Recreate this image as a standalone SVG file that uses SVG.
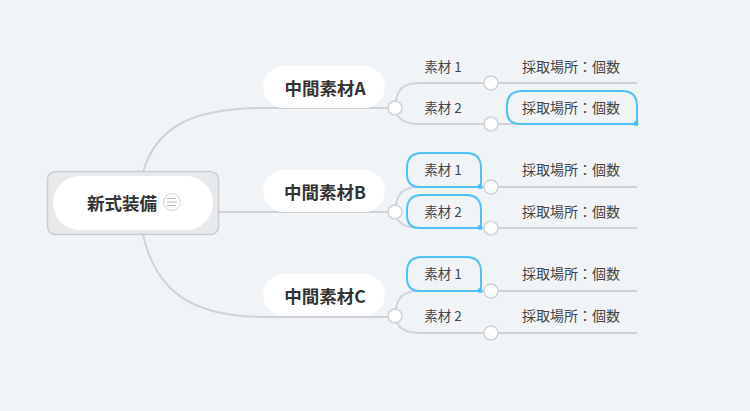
<svg xmlns="http://www.w3.org/2000/svg" width="750" height="411" viewBox="0 0 750 411">
<style>
.bg{fill:#f0f4f7}
.ln{fill:none;stroke:#cfd3d7;stroke-width:2}
.jn{fill:#fff;stroke:#cfd3d7;stroke-width:1.5}
.pill{fill:#fff}
.t1{font-family:"Noto Sans CJK JP","Noto Sans",sans-serif;font-weight:bold;font-size:17.5px;fill:#333;text-anchor:middle;dominant-baseline:central}
.t2{font-family:"Noto Sans CJK JP","Noto Sans",sans-serif;font-size:13.5px;fill:#444;text-anchor:middle;dominant-baseline:central}
.t3{font-family:"Noto Sans CJK JP","Noto Sans",sans-serif;font-size:14px;fill:#444;text-anchor:middle;dominant-baseline:central}
.sel{fill:none;stroke:#4fc0f8;stroke-width:2}
.dot{fill:#4fc0f8}
</style>
<rect class="bg" x="0" y="0" width="750" height="411"/>
<g id="connectors">
<path class="ln" d="M143,172 C156,128 190,108 265,108 L395,108"/>
<path class="ln" d="M219,212 L395,212"/>
<path class="ln" d="M143,235 C156,290 190,317 265,317 L395,317"/>
<path class="ln" d="M395,108 C396,90 402,83 420,83 L637,83"/>
<path class="ln" d="M395,108 C396,117 402,124 420,124 L637,124"/>
<path class="ln" d="M395,212 C396,194 402,187 420,187 L637,187"/>
<path class="ln" d="M395,212 C396,221 402,228 420,228 L637,228"/>
<path class="ln" d="M395,316 C396,298 402,291 420,291 L637,291"/>
<path class="ln" d="M395,316 C396,326 402,333 420,333 L637,333"/>
</g>
<g id="root">
<rect x="47.5" y="171.5" width="171" height="63" rx="8" fill="#e7e9eb" stroke="#c9cdd1" stroke-width="1.5"/>
<rect class="pill" x="53" y="176" width="160" height="54" rx="27"/>
<text class="t1" x="122" y="202">新式装備</text>
<circle cx="172" cy="202" r="8.5" fill="#fff" stroke="#cfd3d7" stroke-width="1"/>
<path d="M167,198.5 H176 M167,202 H177 M167,205.5 H176" stroke="#bbb" stroke-width="1" fill="none"/>
</g>
<g id="nodeA">
<rect class="pill" x="263" y="66" width="122" height="42" rx="21"/>
<text class="t1" x="325" y="87">中間素材A</text>
</g>
<g id="nodeB">
<rect class="pill" x="263" y="170" width="122" height="42" rx="21"/>
<text class="t1" x="325" y="191">中間素材B</text>
</g>
<g id="nodeC">
<rect class="pill" x="263" y="274" width="122" height="42" rx="21"/>
<text class="t1" x="325" y="295">中間素材C</text>
</g>
<g id="junctions">
<circle class="jn" cx="395" cy="108" r="7"/>
<circle class="jn" cx="395" cy="212" r="7"/>
<circle class="jn" cx="395" cy="316" r="7"/>
<circle class="jn" cx="491" cy="83" r="7"/>
<circle class="jn" cx="491" cy="124" r="7"/>
<circle class="jn" cx="491" cy="187" r="7"/>
<circle class="jn" cx="491" cy="228" r="7"/>
<circle class="jn" cx="491" cy="291" r="7"/>
<circle class="jn" cx="491" cy="333" r="7"/>
</g>
<g id="A1"><text class="t2" x="443" y="66">素材 1</text></g>
<g id="A1leaf"><text class="t3" x="571" y="66">採取場所：個数</text></g>
<g id="A2"><text class="t2" x="443" y="107">素材 2</text></g>
<g id="A2leaf">
<path class="sel" d="M522,91 H622 Q637,91 637,106 V124 H520 Q507,124 507,111 V106 Q507,91 522,91 Z"/>
<circle class="dot" cx="636" cy="123.5" r="2.5"/>
<text class="t3" x="571" y="107">採取場所：個数</text>
</g>
<g id="B1">
<path class="sel" d="M422,153 H466 Q481,153 481,168 V187 H420 Q407,187 407,174 V168 Q407,153 422,153 Z"/>
<circle class="dot" cx="480" cy="186.5" r="2.5"/>
<text class="t2" x="443" y="169">素材 1</text>
</g>
<g id="B1leaf"><text class="t3" x="571" y="169">採取場所：個数</text></g>
<g id="B2">
<path class="sel" d="M422,195 H466 Q481,195 481,210 V228 H420 Q407,228 407,215 V210 Q407,195 422,195 Z"/>
<circle class="dot" cx="480" cy="227.5" r="2.5"/>
<text class="t2" x="443" y="211">素材 2</text>
</g>
<g id="B2leaf"><text class="t3" x="571" y="211">採取場所：個数</text></g>
<g id="C1">
<path class="sel" d="M422,257 H466 Q481,257 481,272 V291 H420 Q407,291 407,278 V272 Q407,257 422,257 Z"/>
<circle class="dot" cx="480" cy="290.5" r="2.5"/>
<text class="t2" x="443" y="273">素材 1</text>
</g>
<g id="C1leaf"><text class="t3" x="571" y="273">採取場所：個数</text></g>
<g id="C2"><text class="t2" x="443" y="315">素材 2</text></g>
<g id="C2leaf"><text class="t3" x="571" y="315">採取場所：個数</text></g>
</svg>
